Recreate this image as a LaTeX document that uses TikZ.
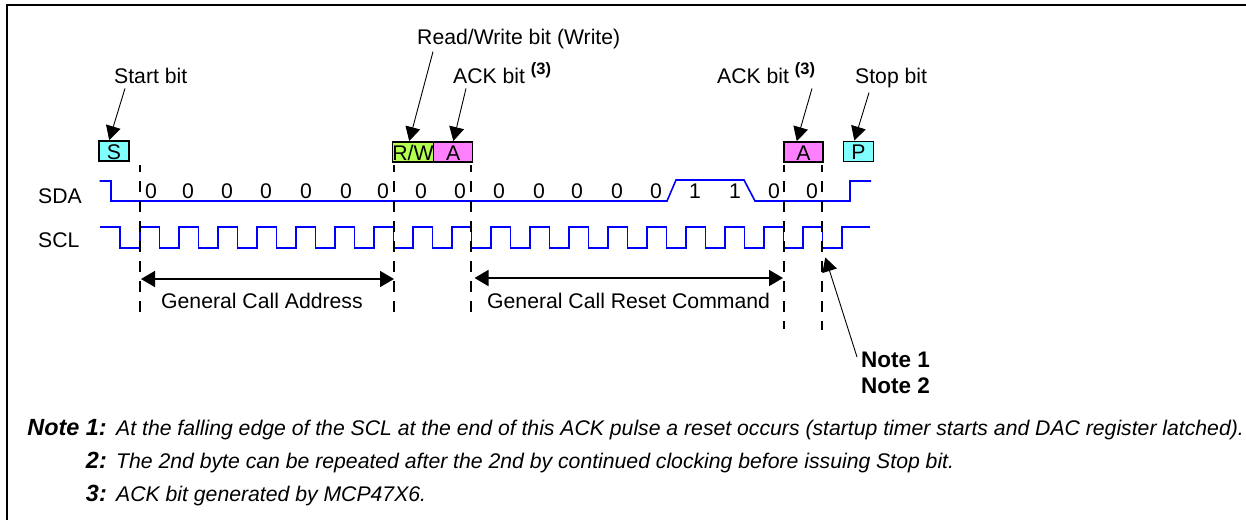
\documentclass[tikz,border=0pt]{standalone}
\usepackage{fontspec}
\setmainfont{Liberation Sans}
\usetikzlibrary{arrows.meta,positioning}
\tikzset{
  lbl/.style={inner sep=0pt,anchor=base,font=\fontsize{21.2}{25}\selectfont},
  lblw/.style={lbl,anchor=base west},
  bitbox/.style={draw=black,line width=1.5pt,inner sep=0pt,outer sep=0pt,minimum height=20pt,text height=16pt,text depth=0pt,font=\fontsize{21.2}{25}\selectfont},
  sig/.style={draw=sigblue,line width=1.6pt},
  guide/.style={draw=black,line width=1.7pt,dash pattern=on 11pt off 9pt,dash phase=4pt},
  callout/.style={draw=black,line width=0.9pt,-{Triangle[length=14pt,width=15pt]},shorten >=1pt},
  span/.style={draw=black,line width=1.7pt,{Triangle[length=14pt,width=16pt]}-{Triangle[length=14pt,width=16pt]}},
  notehead/.style={inner sep=0pt,anchor=base east,font=\fontsize{23.4}{25}\selectfont\bfseries\itshape},
  notebody/.style={inner sep=0pt,anchor=base west,font=\fontsize{21.2}{25}\selectfont\itshape}
}
\definecolor{sigblue}{RGB}{0,0,255}
\definecolor{startcyan}{RGB}{128,255,255}
\definecolor{rwgreen}{RGB}{179,255,77}
\definecolor{ackpink}{RGB}{255,128,255}
\newcommand{\ackref}{\raisebox{8.5pt}{\fontsize{16.5}{18}\selectfont\bfseries (3)}}
\begin{document}
\begin{tikzpicture}[x=1pt,y=-1pt]
\useasboundingbox (0,0) rectangle (1246,520);
\draw[black,line width=1.8pt] (1246,5) -- (6.7,5) -- (6.7,520);

\node[lblw] (sdalbl) at (38,203) {SDA};
\node[lblw] (scllbl) at (38,247) {SCL};
\draw[sig] (99.5,181) -- (111,181) -- (111,201) -- (667,201) -- (676,180) -- (744,180) -- (755,201) -- (850,201) -- (850,181) -- (871,181);
\draw[sig] (100,227) -- (120,227) -- (120,248)
  \foreach \k in {0,...,17} { -- ({140+39*\k},248) -- ({140+39*\k},227) -- ({159.5+39*\k},227) -- ({159.5+39*\k},248) }
  -- (842,248) -- (842,227) -- (870,227);

\foreach \x/\v in {151/0,188/0,227/0,266/0,306/0,346/0,383/0,421/0,460/0,499/0,539/0,577/0,617/0,656/0,695/1,735/1,774/0,812/0}
  \node[lbl] (bit\x) at (\x,198) {\v};

\foreach \x/\e in {140/313,394/313,471/313,784/329,822/330}
  \draw[guide] (\x,165) -- (\x,\e);

\node[bitbox,fill=startcyan,minimum width=30pt] (sbox) at (114,151) {S};
\node[bitbox,fill=rwgreen,minimum width=40.5pt] (rwbox) at (413,152) {R/W};
\node[bitbox,fill=ackpink,minimum width=39pt,right=0pt of rwbox] (ackbox) {A};
\node[bitbox,fill=ackpink,minimum width=39pt] (ackboxb) at (803.5,152) {A};
\node[bitbox,fill=startcyan,minimum width=30pt] (pbox) at (858.5,151.5) {P};

\node[lblw] (startlbl) at (114,83) {Start bit};
\node[lblw] (rwlbl) at (417,44) {Read/Write bit (Write)};
\node[lblw] (acklbl) at (453,83) {ACK bit \ackref};
\node[lblw] (acklblb) at (717,83) {ACK bit \ackref};
\node[lblw] (stoplbl) at (855,83) {Stop bit};

\draw[callout] ([xshift=11pt,yshift=-5pt]startlbl.south west) -- (sbox.117);
\draw[callout] ([xshift=16pt,yshift=-3pt]rwlbl.south west) -- (rwbox.112);
\draw[callout] ([xshift=13pt,yshift=-5pt]acklbl.south west) -- (ackbox.north);
\draw[callout] ([xshift=95pt,yshift=-5pt]acklblb.south west) -- (ackboxb.125);
\draw[callout] ([xshift=14pt,yshift=-5pt]stoplbl.south west) -- (pbox.114);

\coordinate (addrl) at (141,279);
\coordinate (addrr) at (394,279);
\coordinate (cmdl) at (474.5,278);
\coordinate (cmdr) at (783,278);
\draw[span] (addrl) -- (addrr);
\draw[span] (cmdl) -- (cmdr);
\node[lblw] (addrlbl) at (161,308) {General Call Address};
\node[lblw] (cmdlbl) at (487,308) {General Call Reset Command};

\node[inner sep=0pt,anchor=north west,align=left,font=\fontsize{22.5}{26}\selectfont\bfseries] (notelbl) at (861,352) {Note 1\\Note 2};
\coordinate (resetpt) at (825,256.5);
\draw[callout] ([xshift=-4pt,yshift=-5pt]notelbl.north west) -- (resetpt);

\node[notehead] (nh1) at (107,435) {Note 1:};
\node[notehead] (nh2) at (107,468) {2:};
\node[notehead] (nh3) at (107,501) {3:};
\node[notebody] (nb1) at (116,435) {At the falling edge of the SCL at the end of this ACK pulse a reset occurs (startup timer starts and DAC register latched).};
\node[notebody] (nb2) at (116,468) {The 2nd byte can be repeated after the 2nd by continued clocking before issuing Stop bit.};
\node[notebody] (nb3) at (116,501) {ACK bit generated by MCP47X6.};
\end{tikzpicture}
\end{document}
